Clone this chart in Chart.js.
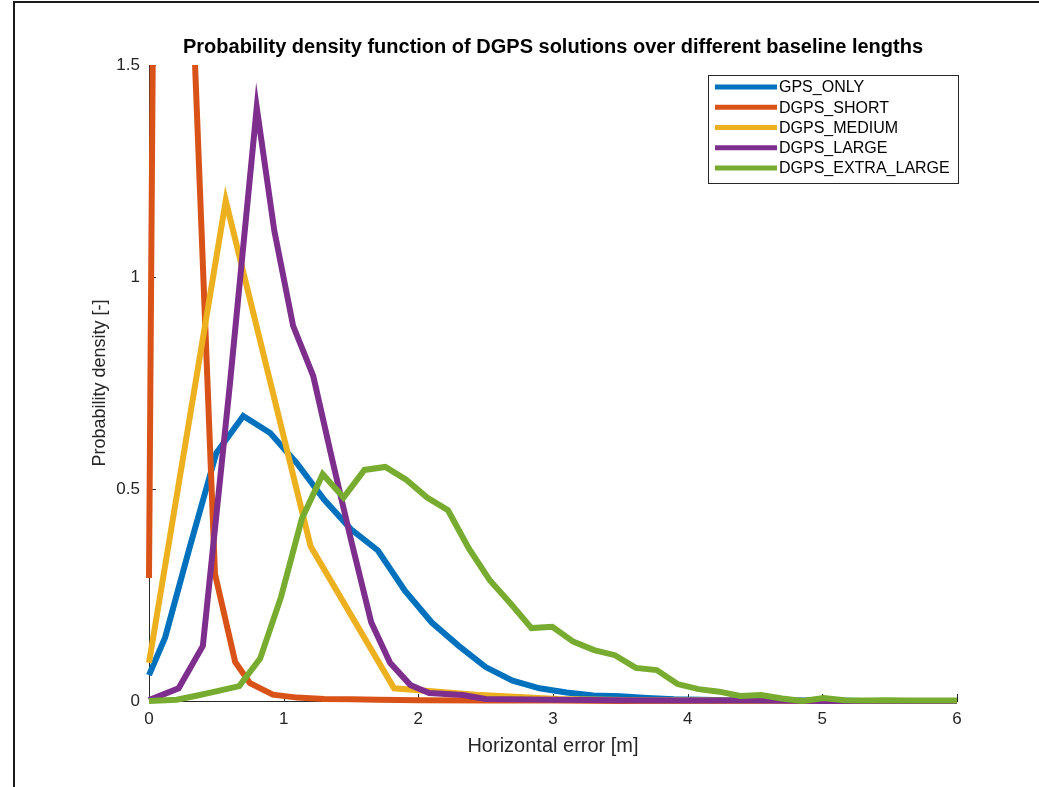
<!DOCTYPE html>
<html>
<head>
<meta charset="utf-8">
<script src="https://cdn.jsdelivr.net/npm/chart.js@4.4.1/dist/chart.umd.min.js"></script>
<style>
  html, body { margin: 0; padding: 0; background: #fff; }
  #wrap { position: relative; width: 1039px; height: 787px; }
  #frame { position: absolute; left: 13px; top: 1px; right: 0; bottom: 0;
           border-left: 2px solid #1a1a1a; border-top: 2px solid #1a1a1a; pointer-events: none; }
</style>
</head>
<body>
<div id="wrap">
  <canvas id="chart" width="1039" height="787"></canvas>
  <div id="frame"></div>
</div>
<script>
var FONT = "'Liberation Sans', Arial, Helvetica, sans-serif";

var seriesNames = ['GPS_ONLY', 'DGPS_SHORT', 'DGPS_MEDIUM', 'DGPS_LARGE', 'DGPS_EXTRA_LARGE'];
var seriesColors = ['#0072BD', '#D95319', '#EDB120', '#7E2F8E', '#77AC30'];
var xTicks = [0, 1, 2, 3, 4, 5, 6];
var yTicks = [0, 0.5, 1, 1.5];

// horizontal error [m] / probability density per series
var gpsOnlyX = [0, 0.12, 0.3, 0.5, 0.7, 0.9, 1.1, 1.3, 1.5, 1.7, 1.9, 2.1, 2.3, 2.5, 2.7, 2.9, 3.1, 3.3, 3.5, 3.7, 3.9, 4.1, 4.3, 4.5, 4.7, 4.9, 5.1, 5.3, 5.5, 5.7, 5.9];
var gpsOnlyY = [0.061, 0.15, 0.36, 0.585, 0.672, 0.632, 0.56, 0.475, 0.405, 0.355, 0.26, 0.185, 0.13, 0.08, 0.048, 0.03, 0.02, 0.013, 0.011, 0.007, 0.004, 0.003, 0.002, 0.002, 0.001, 0.001, 0.001, 0, 0, 0, 0];

var shortX = [0, 0.1, 0.2, 0.3, 0.49, 0.64, 0.75, 0.92, 1.1, 1.3, 1.5, 1.7, 2.0, 2.5, 3.0, 3.5, 4.0, 4.5, 5.0, 5.5, 6.0];
var shortY = [0.29, 4.7, 3.2, 1.84, 0.30, 0.092, 0.042, 0.015, 0.008, 0.005, 0.004, 0.003, 0.002, 0.001, 0.001, 0, 0, 0, 0, 0, 0];

var mediumX = [0, 0.57, 1.2, 1.82, 2.43, 3.04, 3.65, 4.26, 4.87, 5.48, 6.0];
var mediumY = [0.09, 1.18, 0.365, 0.03, 0.015, 0.005, 0.002, 0.001, 0, 0, 0];

var largeX = [0, 0.22, 0.4, 0.6, 0.8, 0.93, 1.07, 1.22, 1.36, 1.5, 1.65, 1.79, 1.94, 2.08, 2.33, 2.5, 3.0, 3.5, 4.0, 4.5, 5.0, 5.5, 6.0];
var largeY = [0.002, 0.03, 0.13, 0.745, 1.40, 1.11, 0.885, 0.766, 0.57, 0.38, 0.186, 0.09, 0.038, 0.019, 0.014, 0.005, 0.003, 0.002, 0.001, 0.001, 0, 0, 0];

var extraX = [0, 0.205, 0.36, 0.515, 0.67, 0.825, 0.98, 1.135, 1.29, 1.445, 1.6, 1.755, 1.91, 2.065, 2.22, 2.375, 2.53, 2.685, 2.84, 2.995,
              3.15, 3.305, 3.46, 3.615, 3.77, 3.925, 4.08, 4.235, 4.39, 4.545, 4.7, 4.855, 5.01, 5.165, 5.32, 5.475, 5.63, 5.785, 5.94, 6.0];
var extraY = [0, 0.003, 0.013, 0.024, 0.035, 0.1, 0.245, 0.43, 0.535, 0.48, 0.545, 0.552, 0.522, 0.48, 0.45, 0.36, 0.285, 0.23, 0.172, 0.175,
              0.14, 0.12, 0.108, 0.078, 0.073, 0.04, 0.028, 0.022, 0.012, 0.014, 0.006, 0, 0.007, 0.002, 0.001, 0.002, 0.001, 0.001, 0.001, 0.001];

var seriesX = [gpsOnlyX, shortX, mediumX, largeX, extraX];
var seriesY = [gpsOnlyY, shortY, mediumY, largeY, extraY];

function toPoints(xs, ys) {
  return xs.map(function(x, i) { return {x: x, y: ys[i]}; });
}

var datasets = seriesNames.map(function(name, i) {
  return {
    label: name,
    data: toPoints(seriesX[i], seriesY[i]),
    borderColor: seriesColors[i],
    backgroundColor: seriesColors[i],
    borderWidth: 6,
    pointRadius: 0,
    fill: false,
    tension: 0,
    order: seriesNames.length - 1 - i,   // later series on top, like matlab
    clip: {left: 5, top: 0, right: 5, bottom: 5}
  };
});

// inward tick marks + boxed legend
var matlabLook = {
  id: 'matlabLook',
  beforeDatasetsDraw: function(chart) {
    var ctx = chart.ctx, area = chart.chartArea;
    var xs = chart.scales.x, ys = chart.scales.y;
    ctx.save();
    ctx.strokeStyle = '#262626';
    ctx.lineWidth = 1;
    ctx.beginPath();
    xTicks.forEach(function(v) {
      var px = Math.round(xs.getPixelForValue(v)) + 0.5;
      ctx.moveTo(px, area.bottom);
      ctx.lineTo(px, area.bottom - 7);
    });
    yTicks.forEach(function(v) {
      var py = Math.round(ys.getPixelForValue(v)) + 0.5;
      ctx.moveTo(area.left, py);
      ctx.lineTo(area.left + 7, py);
    });
    ctx.stroke();
    ctx.restore();
  },
  afterDraw: function(chart) {
    var ctx = chart.ctx, area = chart.chartArea;
    var left = area.right - 249, top = area.top + 10, w = 250, h = 108;
    ctx.save();
    ctx.fillStyle = '#fff';
    ctx.fillRect(left, top, w, h);
    ctx.strokeStyle = '#262626';
    ctx.lineWidth = 1;
    ctx.strokeRect(left + 0.5, top + 0.5, w, h);
    chart.data.datasets.forEach(function(ds, i) {
      var y = top + 12 + i * 20.25;
      ctx.strokeStyle = ds.borderColor;
      ctx.lineWidth = 5;
      ctx.beginPath();
      ctx.moveTo(left + 7, y);
      ctx.lineTo(left + 69, y);
      ctx.stroke();
      ctx.fillStyle = '#000';
      ctx.font = '16px ' + FONT;
      ctx.textBaseline = 'middle';
      ctx.fillText(ds.label, left + 71, y + 1);
    });
    ctx.restore();
  }
};

var ctx = document.getElementById('chart').getContext('2d');
var chart = new Chart(ctx, {
  type: 'line',
  data: { datasets: datasets },
  plugins: [matlabLook],
  options: {
    responsive: false,
    animation: false,
    devicePixelRatio: 1,
    layout: { padding: { left: 20, right: 82, top: 20, bottom: 26 } },
    plugins: {
      legend: { display: false },
      tooltip: { enabled: false },
      title: {
        display: true,
        fullSize: false,
        text: 'Probability density function of DGPS solutions over different baseline lengths',
        color: '#000',
        font: { family: FONT, size: 20, weight: 'bold' },
        padding: { top: 15, bottom: 6 }
      }
    },
    scales: {
      x: {
        type: 'linear',
        min: 0,
        max: 6,
        afterBuildTicks: function(s) { s.ticks = xTicks.map(function(v) { return {value: v}; }); },
        afterFit: function(s) { s.height = 60; },
        grid: { display: false, drawTicks: false },
        border: { display: true, color: '#262626', width: 1 },
        ticks: { color: '#262626', font: { family: FONT, size: 17 }, padding: 8, maxRotation: 0 },
        title: { display: true, text: 'Horizontal error [m]', color: '#262626',
                 font: { family: FONT, size: 20 }, padding: { top: 0, bottom: 3 } }
      },
      y: {
        type: 'linear',
        min: 0,
        max: 1.5,
        afterBuildTicks: function(s) { s.ticks = yTicks.map(function(v) { return {value: v}; }); },
        afterFit: function(s) { s.width = 129; },
        grid: { display: false, drawTicks: false },
        border: { display: true, color: '#262626', width: 1 },
        ticks: { color: '#262626', font: { family: FONT, size: 17 }, padding: 9,
                 callback: function(v) { return String(v); } },
        title: { display: true, text: 'Probability density [-]', color: '#262626',
                 font: { family: FONT, size: 18 }, padding: { top: 69, bottom: 0 } }
      }
    }
  }
});
</script>
</body>
</html>
